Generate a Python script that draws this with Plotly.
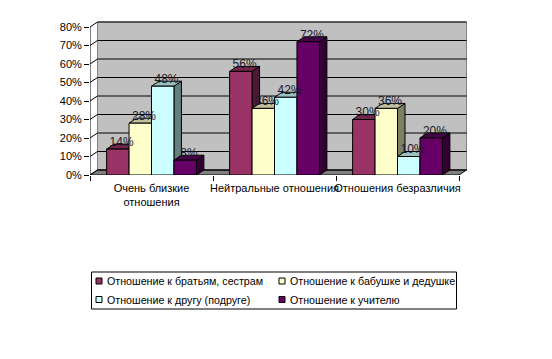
import plotly.graph_objects as go

# ---- data ----
categories = ["Очень близкие<br>отношения", "Нейтральные отношения", "Отношения безразличия"]
series_names = [
    "Отношение к братьям, сестрам",
    "Отношение к бабушке и дедушке",
    "Отношение к другу (подруге)",
    "Отношение к учителю",
]
brothers_sisters = [0.14, 0.56, 0.30]
grandparents = [0.28, 0.36, 0.36]
friend = [0.48, 0.42, 0.10]
teacher = [0.08, 0.72, 0.20]
y_ticks = [0.0, 0.1, 0.2, 0.3, 0.4, 0.5, 0.6, 0.7, 0.8]
y_tick_labels = ["0%", "10%", "20%", "30%", "40%", "50%", "60%", "70%", "80%"]

series_values = [brothers_sisters, grandparents, friend, teacher]
colors = ["#993366", "#FFFFCC", "#CCFFFF", "#660066"]

# ---- styling / geometry ----
FONT = "Liberation Sans, Arial, sans-serif"
BODY = 8            # default page margin of the html body
W, H = 552 - 2 * BODY, 359 - 2 * BODY
PLOT_L, PLOT_W = 90 - BODY, 378
PLOT_T, PLOT_H = 20 - BODY, 155
PX_CAT = 123.0      # pixels per category
PX_Y = 185.0        # pixels per 100%
DX = 7.5 / PX_CAT   # 3D depth offset (x units)
DY = 5.0 / PX_Y     # 3D depth offset (y units)
XMAX = PLOT_W / PX_CAT
YMAX = PLOT_H / PX_Y
NCAT = len(categories)
GROUP = 0.73
BW = GROUP / len(series_values)
YTOP = y_ticks[-1]


def shade(hex_color, f):
    h = hex_color.lstrip("#")
    r, g, b = (int(h[i:i + 2], 16) for i in (0, 2, 4))
    return "rgb(%d,%d,%d)" % (r * f, g * f, b * f)


def px_x(x):  # window pixel -> paper x
    return (x - BODY - PLOT_L) / PLOT_W


def px_y(y):  # window pixel -> paper y
    return (PLOT_T + PLOT_H - (y - BODY)) / PLOT_H


fig = go.Figure()


def poly(xs, ys, fill, line="black", lw=1):
    fig.add_trace(go.Scatter(
        x=xs, y=ys, mode="lines", fill="toself", fillcolor=fill,
        line=dict(color=line, width=lw), hoverinfo="skip",
        showlegend=False, cliponaxis=False))


# back wall
poly([DX, NCAT + DX, NCAT + DX, DX, DX], [DY, DY, YTOP + DY, YTOP + DY, DY], "#C0C0C0", "#808080")
# floor
poly([0, NCAT, NCAT + DX, DX, 0], [0, 0, DY, DY, 0], "#808080", "black")

# gridlines on back wall + connectors on left wall
gx, gy = [], []
for v in y_ticks:
    gx += [0, DX, NCAT + DX, None]
    gy += [v, v + DY, v + DY, None]
gx += [0, 0, None]
gy += [0, YTOP, None]
fig.add_trace(go.Scatter(x=gx, y=gy, mode="lines", line=dict(color="black", width=1),
                         hoverinfo="skip", showlegend=False, cliponaxis=False))

# 3D bars
lab_x, lab_y, lab_t = [], [], []
for ci in range(NCAT):
    start = ci + 0.5 - GROUP / 2
    for si, vals in enumerate(series_values):
        v = vals[ci]
        left = start + si * BW
        right = left + BW
        c = colors[si]
        # side face
        poly([right, right + DX, right + DX, right, right], [0, DY, v + DY, v, 0], shade(c, 0.5))
        # top face
        poly([left, right, right + DX, left + DX, left], [v, v, v + DY, v + DY, v], shade(c, 0.75))
        # front face
        poly([left, right, right, left, left], [0, 0, v, v, 0], c)
        lab_x.append((left + right) / 2 + DX / 2)
        lab_y.append(v + 0.033)
        lab_t.append("%d%%" % round(v * 100))

fig.add_trace(go.Scatter(x=lab_x, y=lab_y, text=lab_t, mode="text",
                         textfont=dict(family=FONT, size=12, color="#1a1a2a"),
                         hoverinfo="skip", showlegend=False, cliponaxis=False))

# legend (two columns, drawn in paper coordinates)
shapes = [dict(type="rect", xref="paper", yref="paper",
               x0=px_x(91.5), x1=px_x(456.5), y0=px_y(309), y1=px_y(272),
               line=dict(color="black", width=1), fillcolor="white", layer="below")]
annotations = []
col_x = [96, 279]
row_y = [281, 299.5]
for i, (name, c) in enumerate(zip(series_names, colors)):
    cx = col_x[i % 2]
    cy = row_y[i // 2]
    shapes.append(dict(type="rect", xref="paper", yref="paper",
                       x0=px_x(cx), x1=px_x(cx + 6), y0=px_y(cy + 3), y1=px_y(cy - 3),
                       line=dict(color="black", width=1), fillcolor=c))
    annotations.append(dict(xref="paper", yref="paper", x=px_x(cx + 8.5), y=px_y(cy),
                            xanchor="left", yanchor="middle", text=name, showarrow=False,
                            font=dict(family=FONT, size=10.7, color="black")))

fig.update_layout(
    width=W, height=H,
    margin=dict(l=PLOT_L, r=W - PLOT_L - PLOT_W, t=PLOT_T, b=H - PLOT_T - PLOT_H),
    paper_bgcolor="white", plot_bgcolor="rgba(0,0,0,0)",
    font=dict(family=FONT, size=11, color="black"),
    xaxis=dict(range=[0, XMAX], showgrid=False, zeroline=False, showline=False,
               tickmode="array", tickvals=[i + 0.5 for i in range(NCAT)], ticktext=categories,
               ticks="", tickangle=0, ticklabelstandoff=5,
               minor=dict(tickmode="array", tickvals=list(range(NCAT + 1)), ticks="outside",
                          ticklen=5, tickcolor="black", showgrid=False),
               fixedrange=True),
    yaxis=dict(range=[0, YMAX], showgrid=False, zeroline=False, showline=False,
               tickmode="array", tickvals=y_ticks, ticktext=y_tick_labels,
               ticks="outside", ticklen=5, tickcolor="black", fixedrange=True),
    shapes=shapes,
    annotations=annotations,
    showlegend=False,
)

fig.write_html("out.html")
